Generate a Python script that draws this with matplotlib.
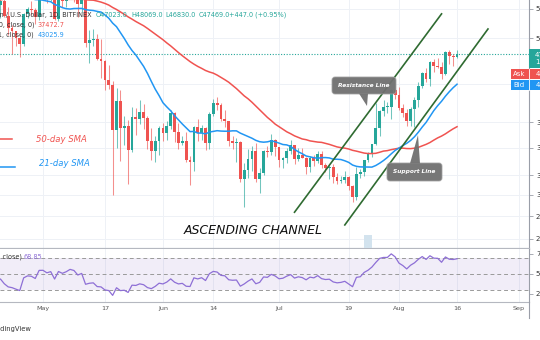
import numpy as np
import pandas as pd
import matplotlib
matplotlib.use("Agg")
import matplotlib.pyplot as plt
import matplotlib.patches as mpatches
from matplotlib.lines import Line2D
from matplotlib.transforms import IdentityTransform
from matplotlib.ticker import FixedLocator, NullLocator

# closes used only to warm up the moving averages / RSI (Mar 1 - Apr 19)
WARMUP_START = "2021-03-01"
WARMUP_CLOSE = [
    49600, 48400, 50500, 48400, 48800, 48900, 51000, 52400, 54900, 55900,
    57800, 57200, 61200, 59000, 55600, 56900, 58900, 57600, 58100, 58100,
    57400, 54100, 54300, 52300, 51300, 55000, 55800, 55800, 57600, 58800, 58800,
    58700, 59000, 57100, 58200, 59100, 58000, 56000, 58100, 58100, 59800,
    59900, 59800, 63500, 62900, 63200, 61400, 60100, 56200, 55700,
]

# daily candles, Apr 20 - Aug 16
CANDLE_START = "2021-04-20"
OPEN = [
    55600, 56450, 53800, 51700, 51150, 50050, 49000, 54000, 55000, 54800, 53600,
    57750, 57800, 56600, 57200, 53250, 57450, 56400, 57350, 58800, 58250, 55850,
    56700, 49150, 49700, 49900, 46750, 46450, 43550, 42900, 37000, 40780, 37300,
    37500, 34700, 38700, 38400, 39300, 38500, 35700, 34600, 35700,
    37300, 36700, 37600, 39200, 36850, 35550, 35800, 33600, 33400, 37400, 36700,
    37300, 35550, 39100, 40500, 40150, 38350, 38100, 35800, 35500, 35600, 31600,
    32500, 33700, 34650, 31600, 32200, 34650, 34450, 35850,
    35040, 33570, 33800, 34650, 35290, 33700, 34200, 33860, 32870, 33800, 33500,
    34250, 33080, 32730, 32820, 31780, 31420, 31530, 31780, 30840, 29790, 32110,
    32290, 33580, 34290, 35400, 37300, 39450, 39990, 40000, 42200,
    41500, 39850, 39150, 38150, 39740, 40870, 42830, 44600, 43800, 46300, 45600,
    45560, 44430, 47800, 47100, 47023,
]
HIGH = [
    57000, 56800, 55400, 52100, 51200, 50500, 54300, 55400, 56400, 55200, 58000,
    58400, 57900, 58900, 57200, 57900, 58300, 58600, 59500, 59200, 59500, 57000,
    58000, 51300, 51500, 50700, 49800, 46600, 45800, 43500, 42500, 42200, 38800,
    38300, 39900, 39800, 40800, 40400, 38800, 37300, 36400, 37500,
    37900, 38200, 39500, 39300, 37900, 36400, 36800, 34100, 37500, 38400, 37700,
    37400, 39300, 41000, 41300, 40500, 39500, 38200, 36400, 36100, 35700, 33300,
    34800, 35200, 35500, 32700, 34700, 35200, 36600, 36000,
    35100, 33900, 34900, 35900, 35300, 35000, 35000, 33900, 34100, 34200, 34600,
    34600, 33300, 33100, 33200, 32200, 31900, 32400, 31900, 31000, 32800, 32600,
    33600, 34500, 35400, 40500, 39500, 40900, 40600, 42300, 42400,
    42600, 40400, 39700, 39900, 41300, 43300, 44700, 45300, 46400, 46700, 46800,
    46200, 47900, 48100, 47400, 48069,
]
LOW = [
    53400, 53600, 50500, 47500, 48800, 47000, 48800, 53300, 53900, 52400, 53000,
    57000, 56100, 56500, 53100, 52900, 55300, 55400, 56900, 56300, 53500, 54500,
    48600, 46100, 48800, 46600, 43900, 42200, 42300, 30000, 35000, 33500, 35300,
    31100, 34500, 36500, 37800, 37200, 34800, 33600, 33400, 34200,
    35700, 35900, 37200, 35600, 34800, 35300, 33400, 31000, 32400, 35800, 35900,
    34700, 34800, 38800, 39500, 38100, 37400, 35200, 34800, 33400, 31300, 28800,
    31700, 32400, 31300, 30200, 32000, 33900, 34200, 34000,
    32800, 32700, 33300, 34300, 33200, 33500, 33800, 32100, 32300, 33000, 33300,
    32700, 32300, 31600, 31200, 31100, 31200, 31200, 30500, 29300, 29500, 31700,
    31900, 33400, 33900, 35300, 36400, 38800, 39200, 38400, 41000,
    39500, 38700, 37600, 37500, 37400, 39900, 42500, 43400, 42800, 44700, 45400,
    43800, 44300, 45900, 45600, 46830,
]
CLOSE = [
    56450, 53800, 51700, 51150, 50050, 49000, 54000, 55000, 54800, 53600, 57750,
    57800, 56600, 57200, 53250, 57450, 56400, 57350, 58800, 58250, 55850, 56700,
    49150, 49700, 49900, 46750, 46450, 43550, 42900, 37000, 40780, 37300, 37500,
    34700, 38700, 38400, 39300, 38500, 35700, 34600, 35700, 37300,
    36700, 37600, 39200, 36850, 35550, 35800, 33600, 33400, 37400, 36700, 37300,
    35550, 39100, 40500, 40150, 38350, 38100, 35800, 35500, 35600, 31600, 32500,
    33700, 34650, 31600, 32200, 34650, 34450, 35850, 35040,
    33570, 33800, 34650, 35290, 33700, 34200, 33860, 32870, 33800, 33500, 34250,
    33080, 32730, 32820, 31780, 31420, 31530, 31780, 30840, 29790, 32110, 32290,
    33580, 34290, 35400, 37300, 39450, 39990, 40000, 42200, 41500,
    39850, 39150, 38150, 39740, 40870, 42830, 44600, 43800, 46300, 45600, 45560,
    44430, 47800, 47100, 47020, 47469,
]
LAST_PRICE = 47469.0

PRICE_TICKS = [26000, 28000, 30000, 32000, 35000, 38000, 43000, 50000, 55000]
RSI_TICKS = [25, 50, 75]
RSI_LEVELS = [30, 50, 70]

TICK_DATES = ["2021-05-01", "2021-05-17", "2021-06-01", "2021-06-14", "2021-07-01",
              "2021-07-19", "2021-08-01", "2021-08-16", "2021-09-01"]
TICK_LABELS = ["May", "17", "Jun", "14", "Jul", "19", "Aug", "16", "Sep"]

# drawn channel: (start date, start price) -> (end date, end price)
UPPER_CHANNEL = (["2021-07-05", "2021-08-12"], [28350, 54100])
LOWER_CHANNEL = (["2021-07-18", "2021-08-24"], [27200, 51500])

GREEN = "#26a69a"
RED = "#ef5350"
BLUE = "#2196f3"
SMA_RED = "#f05350"
CHANNEL = "#2f6b31"
PURPLE = "#8e6fd6"
GRID = "#eef1f6"
AXIS = "#9a9ea8"

W, H = 540, 340


def fx(x):
    return x / W


def fy(y):
    return 1 - y / H


closes_all = pd.Series(
    WARMUP_CLOSE + CLOSE,
    index=pd.date_range(WARMUP_START, periods=len(WARMUP_CLOSE) + len(CLOSE), freq="D"),
)
sma50 = closes_all.rolling(50).mean()
sma21 = closes_all.rolling(21).mean()

delta = closes_all.diff()
avg_gain = delta.clip(lower=0).ewm(alpha=1 / 14, adjust=False).mean()
avg_loss = (-delta.clip(upper=0)).ewm(alpha=1 / 14, adjust=False).mean()
rsi = 100 - 100 / (1 + avg_gain / avg_loss)

dates = pd.date_range(CANDLE_START, periods=len(CLOSE), freq="D")
o = np.array(OPEN, dtype=float)
h = np.array(HIGH, dtype=float)
l = np.array(LOW, dtype=float)
c = np.array(CLOSE, dtype=float)
colors = np.where(c >= o, GREEN, RED)

fig = plt.figure(figsize=(5.4, 3.4), dpi=100)
ax = fig.add_axes([0, fy(249), fx(529), 249 / H])
ax_rsi = fig.add_axes([0, fy(302), fx(529), (302 - 249) / H], sharex=ax)

####### price pane
ax.set_yscale("log")
ax.vlines(dates, l, h, colors=colors, linewidth=0.75, alpha=0.65, zorder=3)
ax.bar(dates, np.maximum(np.abs(c - o), 60), bottom=np.minimum(o, c), width=0.72,
       color=colors, linewidth=0, zorder=4)

ax.plot(sma50.index, sma50.values, color=SMA_RED, lw=1.1, zorder=5)
ax.plot(sma21.index, sma21.values, color=BLUE, lw=1.1, zorder=5)

for xs, ys in (UPPER_CHANNEL, LOWER_CHANNEL):
    ax.plot(pd.to_datetime(xs), ys, color=CHANNEL, lw=1.2, zorder=6)

ax.axhline(LAST_PRICE, color=GREEN, lw=0.8, ls=(0, (1, 1.5)), zorder=2)

x0 = pd.Timestamp("2021-05-01")
ax.set_xlim(x0 - pd.Timedelta(days=11.11), x0 + pd.Timedelta(days=125.6))
ax.set_ylim(25150, 56600)
ax.yaxis.tick_right()
ax.yaxis.set_major_locator(FixedLocator(PRICE_TICKS))
ax.yaxis.set_minor_locator(NullLocator())
ax.set_yticklabels([f"{v:.1f}" for v in PRICE_TICKS])
ax.tick_params(axis="y", direction="out", length=3, width=0.6, color=AXIS,
               labelsize=5, labelcolor="#333333", pad=2)
ax.tick_params(axis="x", length=0, labelbottom=False)
ax.grid(True, color=GRID, lw=0.7)
ax.set_axisbelow(True)
for side in ("top", "left"):
    ax.spines[side].set_visible(False)
ax.spines["right"].set_color(AXIS)
ax.spines["right"].set_linewidth(0.8)
ax.spines["bottom"].set_color("#b5b8c0")
ax.spines["bottom"].set_linewidth(1.6)

####### RSI pane
ax_rsi.fill_between([ax.get_xlim()[0], ax.get_xlim()[1]], RSI_LEVELS[0], RSI_LEVELS[-1],
                    color="#7e57c2", alpha=0.1, lw=0, zorder=1)
for lvl in RSI_LEVELS:
    ax_rsi.axhline(lvl, color="#9a9a9a", lw=0.7, ls=(0, (4, 3)), zorder=2)
rsi_view = rsi[rsi.index >= dates[0] - pd.Timedelta(days=1)]
ax_rsi.plot(rsi_view.index, rsi_view.values, color=PURPLE, lw=0.9, zorder=3)
ax_rsi.set_ylim(15, 81)
ax_rsi.yaxis.tick_right()
ax_rsi.yaxis.set_major_locator(FixedLocator(RSI_TICKS))
ax_rsi.set_yticklabels([f"{v:.2f}" for v in RSI_TICKS])
ax_rsi.tick_params(axis="y", direction="out", length=3, width=0.6, color=AXIS,
                   labelsize=5, labelcolor="#333333", pad=2)
ax_rsi.set_xticks(pd.to_datetime(TICK_DATES))
ax_rsi.set_xticklabels(TICK_LABELS)
ax_rsi.tick_params(axis="x", length=0, labelsize=4.6, labelcolor="#555555", pad=3)
ax_rsi.grid(True, axis="x", color=GRID, lw=0.7)
ax_rsi.set_axisbelow(True)
for side in ("top", "left"):
    ax_rsi.spines[side].set_visible(False)
ax_rsi.spines["right"].set_color(AXIS)
ax_rsi.spines["right"].set_linewidth(0.8)
ax_rsi.spines["bottom"].set_color("#b5b8c0")
ax_rsi.spines["bottom"].set_linewidth(0.8)

fig.add_artist(Line2D([fx(529), fx(529)], [fy(302), fy(318)], color=AXIS, lw=0.8))

####### legend texts (cropped on the left like the screenshot)
fig.text(fx(92), fy(15), "Bitcoin / U.S. Dollar, 1D, BITFINEX", ha="right", va="center",
         fontsize=4.7, color="#333333")
for xp, s in zip([96, 131, 165, 199, 229],
                 ["O47023.0", "H48069.0", "L46830.0", "C47469.0", "+447.0 (+0.95%)"]):
    fig.text(fx(xp), fy(15), s, ha="left", va="center", fontsize=4.7, color=GREEN)
fig.text(fx(34), fy(25), "MA (50, close, 0)", ha="right", va="center", fontsize=4.7, color="#333333")
fig.text(fx(38), fy(25), "37472.7", ha="left", va="center", fontsize=4.7, color=RED)
fig.text(fx(34), fy(35), "MA (21, close, 0)", ha="right", va="center", fontsize=4.7, color="#333333")
fig.text(fx(38), fy(35), "43025.9", ha="left", va="center", fontsize=4.7, color=BLUE)
fig.text(fx(22), fy(257), "RSI (14, close)", ha="right", va="center", fontsize=4.7, color="#333333")
fig.text(fx(24), fy(257), "68.85", ha="left", va="center", fontsize=4.7, color=PURPLE)

fig.add_artist(Line2D([0, fx(12)], [fy(139), fy(139)], color=SMA_RED, lw=1.1))
fig.text(fx(36), fy(140), "50-day SMA", ha="left", va="center", fontsize=6.1,
         style="italic", color=SMA_RED)
fig.add_artist(Line2D([0, fx(15)], [fy(167), fy(167)], color=BLUE, lw=1.1))
fig.text(fx(39), fy(163), "21-day SMA", ha="left", va="center", fontsize=6.1,
         style="italic", color=BLUE)

fig.text(fx(253), fy(230), "ASCENDING CHANNEL", ha="center", va="center", fontsize=9,
         style="italic", color="#111111")

####### callouts
ident = IdentityTransform()


def callout(x1, y1, x2, y2, tail, text):
    box = mpatches.FancyBboxPatch((x1, H - y2), x2 - x1, y2 - y1,
                                  boxstyle="round,pad=0,rounding_size=3",
                                  fc="#707070", ec="#a0a0a0", lw=0.6, alpha=0.95,
                                  transform=ident, zorder=10)
    fig.add_artist(box)
    tri = mpatches.Polygon([(px, H - py) for px, py in tail], closed=True,
                           fc="#707070", ec="none", alpha=0.95, transform=ident, zorder=10)
    fig.add_artist(tri)
    fig.text(fx((x1 + x2) / 2), fy((y1 + y2) / 2), text, ha="center", va="center",
             fontsize=4.2, weight="bold", style="italic", color="white", zorder=11)


callout(332, 77, 396, 94, [(359, 93.5), (368, 93.5), (367, 106)], "Resistance Line")
callout(387, 163, 442, 181, [(410, 163.5), (420, 163.5), (418, 135)], "Support Line")

# event marker under the chart
fig.add_artist(mpatches.Rectangle((364, H - 248), 8, 13, fc="#d3e3ee", ec="none",
                                  transform=ident, zorder=9))


####### right-hand price badges
def badge(x1, y1, x2, y2, color):
    fig.add_artist(mpatches.Rectangle((x1, H - y2), x2 - x1, y2 - y1, fc=color, ec="none",
                                      transform=ident, zorder=12))


badge(529, 49, 540, 68, GREEN)
fig.text(fx(535), fy(58.5), "47469.0\n17:42:15", ha="left", va="center", fontsize=5,
         color="white", linespacing=1.15, zorder=13)
badge(511, 69, 540, 79, RED)
fig.text(fx(513), fy(74), "Ask", ha="left", va="center", fontsize=5, color="white", zorder=13)
fig.text(fx(536), fy(74), "47470.0", ha="left", va="center", fontsize=5, color="white", zorder=13)
badge(511, 80, 540, 90, BLUE)
fig.text(fx(513), fy(85), "Bid", ha="left", va="center", fontsize=5, color="white", zorder=13)
fig.text(fx(536), fy(85), "47469.0", ha="left", va="center", fontsize=5, color="white", zorder=13)
fig.add_artist(Line2D([fx(529), fx(529)], [fy(69), fy(90)], color="white", lw=0.6, zorder=13))

fig.text(fx(31), fy(329), "TradingView", ha="right", va="center", fontsize=4.9, color="#333333")

fig.savefig("out.png", dpi=100)
